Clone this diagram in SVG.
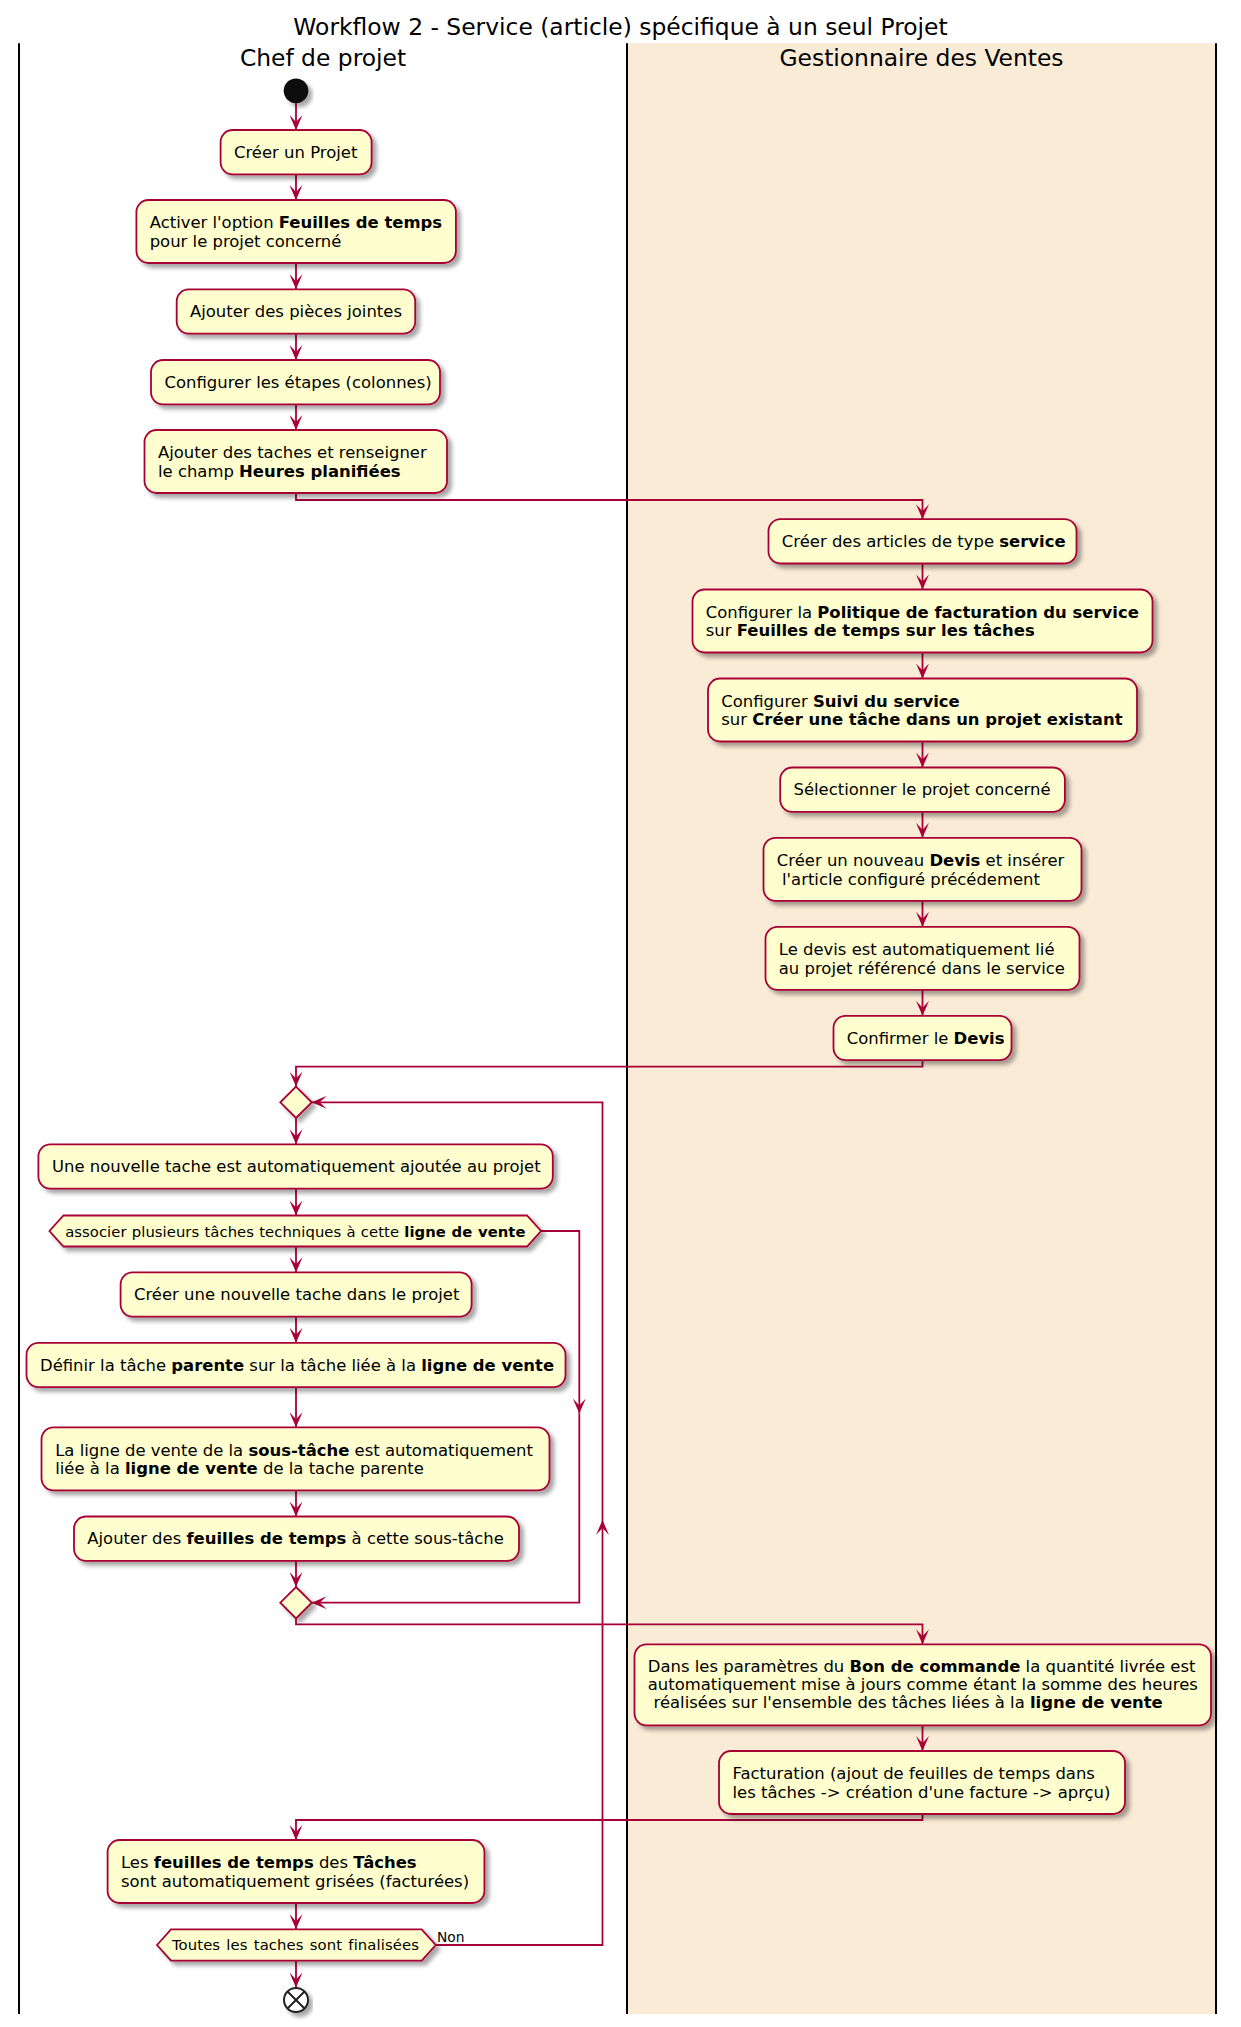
<svg xmlns="http://www.w3.org/2000/svg" width="1241" height="2027" viewBox="0 0 1241 2027">
<defs>
<style>
.box{fill:#FEFECE;stroke:#A80036;stroke-width:1.8;filter:url(#sh)}
.t{font-family:"DejaVu Sans","Liberation Sans",sans-serif;font-size:16.45px;fill:#000}
.d{font-family:"DejaVu Sans","Liberation Sans",sans-serif;font-size:14.8px;fill:#000;letter-spacing:0.1px;word-spacing:1.4px}
.d2{letter-spacing:0.05px;word-spacing:0.5px}
.b{font-weight:bold}
.con{fill:none;stroke:#A80036;stroke-width:1.8}
.arr{marker-end:url(#ah)}
.lane{stroke:#000;stroke-width:2}
.hdr{font-family:"DejaVu Sans","Liberation Sans",sans-serif;font-size:23.4px;fill:#000;text-anchor:middle}
</style>
<filter id="sh" x="-10%" y="-20%" width="130%" height="160%">
<feGaussianBlur in="SourceAlpha" stdDeviation="2"/>
<feOffset dx="4" dy="4"/>
<feComponentTransfer><feFuncA type="linear" slope="0.35"/></feComponentTransfer>
<feMerge><feMergeNode/><feMergeNode in="SourceGraphic"/></feMerge>
</filter>
<marker id="ah" viewBox="0 0 16 13" refX="15" refY="6.5" markerWidth="16" markerHeight="13" markerUnits="userSpaceOnUse" orient="auto">
<path d="M0,0 L15,6.5 L0,13 L7,6.5 Z" fill="#A80036"/>
</marker>
</defs>
<rect width="1241" height="2027" fill="#FFFFFF"/>
<g id="lanes">
<rect x="627" y="43.3" width="589" height="1970.7" fill="#FAEBD7"/>
<line class="lane" x1="19" y1="43.3" x2="19" y2="2014"/>
<line class="lane" x1="627" y1="43.3" x2="627" y2="2014"/>
<line class="lane" x1="1216" y1="43.3" x2="1216" y2="2014"/>
<text class="hdr" x="323" y="65.7">Chef de projet</text>
<text class="hdr" x="921.5" y="65.7">Gestionnaire des Ventes</text>
</g>
<text id="title" class="hdr" x="620.5" y="35">Workflow 2 - Service (article) spécifique à un seul Projet</text>

<g id="connectors">
<path class="con arr" d="M296,103 V130"/>
<path class="con arr" d="M296,174.3 V200"/>
<path class="con arr" d="M296,263 V289.3"/>
<path class="con arr" d="M296,333.6 V360"/>
<path class="con arr" d="M296,404.3 V430"/>
<path class="con arr" d="M296,493 V500 H922.5 V519.2"/>
<path class="con arr" d="M922.5,563.5 V589.5"/>
<path class="con arr" d="M922.5,652.5 V678.5"/>
<path class="con arr" d="M922.5,741.5 V767.5"/>
<path class="con arr" d="M922.5,811.8 V837.8"/>
<path class="con arr" d="M922.5,900.8 V926.8"/>
<path class="con arr" d="M922.5,989.8 V1015.8"/>
<path class="con arr" d="M922.5,1060.1 V1066.7 H296 V1086.6"/>
<path class="con arr" d="M296,1118 V1144.3"/>
<path class="con arr" d="M296,1188.6 V1215.5"/>
<path class="con arr" d="M296,1246.5 V1272.3"/>
<path class="con arr" d="M296,1316.6 V1342.8"/>
<path class="con arr" d="M296,1387.1 V1427.3"/>
<path class="con arr" d="M296,1490.3 V1516.5"/>
<path class="con arr" d="M296,1560.8 V1587"/>
<path class="con arr" d="M296,1618.4 V1624.3 H922.5 V1644.3"/>
<path class="con arr" d="M922.5,1725.3 V1751"/>
<path class="con arr" d="M922.5,1814 V1820 H296 V1840"/>
<path class="con arr" d="M296,1903 V1929.3"/>
<path class="con arr" d="M296,1960.7 V1987.5"/>
<path class="con arr" d="M541,1231 H579.3 V1413.5"/>
<path class="con arr" d="M579.3,1413.5 V1602.7 H311.7"/>
<path class="con arr" d="M435.7,1945 H602.5 V1520"/>
<path class="con arr" d="M602.5,1520 V1102.3 H311.7"/>
<text x="437" y="1941.7" font-family="DejaVu Sans, Liberation Sans, sans-serif" font-size="13.8" fill="#000">Non</text>
</g>

<g id="start"><circle cx="296" cy="90.8" r="12.3" fill="#111" filter="url(#sh)"/></g>

<g id="n1"><rect class="box" x="220.6" y="130" width="151" height="44.3" rx="12"/>
<text class="t" x="234" y="157.8">Créer un Projet</text></g>

<g id="n2"><rect class="box" x="136.4" y="200" width="319.5" height="63" rx="12"/>
<text class="t" x="149.7" y="228.4">Activer l'option <tspan class="b">Feuilles de temps</tspan></text>
<text class="t" x="149.7" y="246.8">pour le projet concerné</text></g>

<g id="n3"><rect class="box" x="176.7" y="289.3" width="238.5" height="44.3" rx="12"/>
<text class="t" x="190" y="317.2">Ajouter des pièces jointes</text></g>

<g id="n4"><rect class="box" x="151" y="360" width="289" height="44.3" rx="12"/>
<text class="t" x="164.5" y="388">Configurer les étapes (colonnes)</text></g>

<g id="n5"><rect class="box" x="144.5" y="430" width="302.5" height="63" rx="12"/>
<text class="t" x="158" y="458.4">Ajouter des taches et renseigner</text>
<text class="t" x="158" y="476.8">le champ <tspan class="b">Heures planifiées</tspan></text></g>

<g id="n6"><rect class="box" x="768.5" y="519.2" width="308" height="44.3" rx="12"/>
<text class="t" x="781.8" y="547">Créer des articles de type <tspan class="b">service</tspan></text></g>

<g id="n7"><rect class="box" x="692.5" y="589.5" width="460" height="63" rx="12"/>
<text class="t" x="705.8" y="618">Configurer la <tspan class="b">Politique de facturation du service</tspan></text>
<text class="t" x="705.8" y="636.4">sur <tspan class="b">Feuilles de temps sur les tâches</tspan></text></g>

<g id="n8"><rect class="box" x="708" y="678.5" width="429" height="63" rx="12"/>
<text class="t" x="721.3" y="707">Configurer <tspan class="b">Suivi du service</tspan></text>
<text class="t" x="721.3" y="725.4">sur <tspan class="b">Créer une tâche dans un projet existant</tspan></text></g>

<g id="n9"><rect class="box" x="780.2" y="767.5" width="284.7" height="44.3" rx="12"/>
<text class="t" x="793.5" y="795.2">Sélectionner le projet concerné</text></g>

<g id="n10"><rect class="box" x="763.5" y="837.8" width="318" height="63" rx="12"/>
<text class="t" x="776.8" y="866.2">Créer un nouveau <tspan class="b">Devis</tspan> et insérer</text>
<text class="t" x="782" y="884.6">l'article configuré précédement</text></g>

<g id="n11"><rect class="box" x="765.5" y="926.8" width="314" height="63" rx="12"/>
<text class="t" x="778.8" y="955.2">Le devis est automatiquement lié</text>
<text class="t" x="778.8" y="973.6">au projet référencé dans le service</text></g>

<g id="n12"><rect class="box" x="833.5" y="1015.8" width="178" height="44.3" rx="12"/>
<text class="t" x="846.8" y="1043.6">Confirmer le <tspan class="b">Devis</tspan></text></g>

<g id="d1"><polygon class="box" points="296,1086.6 311.7,1102.3 296,1118 280.3,1102.3"/></g>

<g id="n13"><rect class="box" x="38.4" y="1144.3" width="514.4" height="44.3" rx="12"/>
<text class="t" x="52" y="1172.2">Une nouvelle tache est automatiquement ajoutée au projet</text></g>

<g id="h14"><polygon class="box" points="49.4,1231 63.5,1215.5 527,1215.5 541,1231 527,1246.5 63.5,1246.5"/>
<text class="d d2" x="65.2" y="1236.6">associer plusieurs tâches techniques à cette <tspan class="b">ligne de vente</tspan></text></g>

<g id="n15"><rect class="box" x="120.6" y="1272.3" width="351" height="44.3" rx="12"/>
<text class="t" x="134" y="1300.4">Créer une nouvelle tache dans le projet</text></g>

<g id="n16"><rect class="box" x="26.5" y="1342.8" width="539" height="44.3" rx="12"/>
<text class="t" x="40" y="1370.9">Définir la tâche <tspan class="b">parente</tspan> sur la tâche liée à la <tspan class="b">ligne de vente</tspan></text></g>

<g id="n17"><rect class="box" x="41.5" y="1427.3" width="508" height="63" rx="12"/>
<text class="t" x="55.2" y="1455.5">La ligne de vente de la <tspan class="b">sous-tâche</tspan> est automatiquement</text>
<text class="t" x="55.2" y="1473.8">liée à la <tspan class="b">ligne de vente</tspan> de la tache parente</text></g>

<g id="n18"><rect class="box" x="74" y="1516.5" width="445" height="44.3" rx="12"/>
<text class="t" x="87.3" y="1544.4">Ajouter des <tspan class="b">feuilles de temps</tspan> à cette sous-tâche</text></g>

<g id="d2"><polygon class="box" points="296,1587 311.7,1602.7 296,1618.4 280.3,1602.7"/></g>

<g id="n19"><rect class="box" x="634.5" y="1644.3" width="576.5" height="81" rx="12"/>
<text class="t" x="647.8" y="1671.8">Dans les paramètres du <tspan class="b">Bon de commande</tspan> la quantité livrée est</text>
<text class="t" x="647.8" y="1690.1">automatiquement mise à jours comme étant la somme des heures</text>
<text class="t" x="653.5" y="1708.4">réalisées sur l'ensemble des tâches liées à la <tspan class="b">ligne de vente</tspan></text></g>

<g id="n20"><rect class="box" x="719" y="1751" width="406" height="63" rx="12"/>
<text class="t" x="732.5" y="1779.3">Facturation (ajout de feuilles de temps dans</text>
<text class="t" x="732.5" y="1797.7">les tâches -&gt; création d'une facture -&gt; aprçu)</text></g>

<g id="n21"><rect class="box" x="107.6" y="1840" width="376.8" height="63" rx="12"/>
<text class="t" x="121" y="1868.3">Les <tspan class="b">feuilles de temps</tspan> des <tspan class="b">Tâches</tspan></text>
<text class="t" x="121" y="1886.7">sont automatiquement grisées (facturées)</text></g>

<g id="h22"><polygon class="box" points="157,1945 171,1929.3 421.7,1929.3 435.7,1945 421.7,1960.7 171,1960.7"/>
<text class="d" x="172" y="1950.2">Toutes les taches sont finalisées</text></g>

<g id="end"><circle cx="296" cy="2000" r="12" fill="#FFFFFF" stroke="#222" stroke-width="2" filter="url(#sh)"/>
<path d="M287.5,1991.5 L304.5,2008.5 M304.5,1991.5 L287.5,2008.5" stroke="#222" stroke-width="2"/></g>
</svg>
